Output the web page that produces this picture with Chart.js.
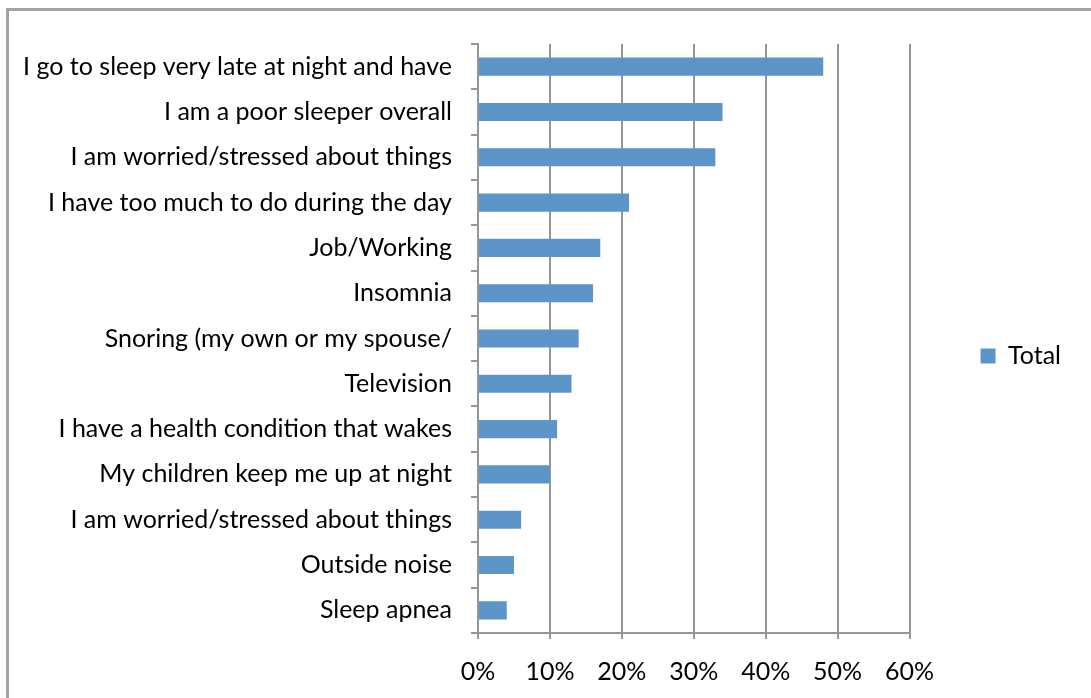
<!DOCTYPE html>
<html>
<head>
<meta charset="utf-8">
<script src="https://cdn.jsdelivr.net/npm/chart.js@4/dist/chart.umd.min.js"></script>
<style>
  html, body { margin:0; padding:0; background:#fff; overflow:hidden; }
  #frame { position:absolute; left:6px; top:8px; width:1200px; height:800px; border:3px solid #a3a3a3; box-sizing:border-box; }
  #wrap { position:absolute; left:0; top:0; width:1091px; height:698px; }
</style>
</head>
<body>
<div id="frame"></div>
<div id="wrap"><canvas id="chart-motivos"></canvas></div>
<script>
// Motivos de sono ruim — barras horizontais com legenda à direita
const categorias = [
  'I go to sleep very late at night and have',
  'I am a poor sleeper overall',
  'I am worried/stressed about things',
  'I have too much to do during the day',
  'Job/Working',
  'Insomnia',
  'Snoring (my own or my spouse/',
  'Television',
  'I have a health condition that wakes',
  'My children keep me up at night',
  'I am worried/stressed about things',
  'Outside noise',
  'Sleep apnea'
];
const valoresTotal = [48, 34, 33, 21, 17, 16, 14, 13, 11, 10, 6, 5, 4];
const eixoMin = 0, eixoMax = 60, eixoPasso = 10;

const FONTE = { family: 'Lato, "Open Sans", sans-serif', size: 25 };
const CINZA = '#969696';

// O eixo x tem altura fixa (para a legenda ficar centrada certo), mas o
// Chart.js recorta os rótulos na caixa do eixo — estica o recorte até o fim do canvas.
const rotulosXInteiros = {
  id: 'rotulosXInteiros',
  afterLayout(chart) {
    chart.scales.x.bottom = chart.height;
  }
};

const canvas = document.getElementById('chart-motivos');
const chartMotivos = new Chart(canvas, {
  type: 'bar',
  data: {
    labels: categorias,
    datasets: [{
      label: 'Total',
      data: valoresTotal,
      backgroundColor: '#5e95c8',
      borderWidth: 0,
      categoryPercentage: 1,
      barPercentage: 0.4
    }]
  },
  options: {
    indexAxis: 'y',
    responsive: true,
    maintainAspectRatio: false,
    animation: false,
    layout: { padding: { left: 0, top: 44, right: 20, bottom: 30 } },
    plugins: {
      legend: {
        position: 'right',
        labels: { boxWidth: 15, boxHeight: 15, padding: 71, color: '#000', font: FONTE }
      },
      tooltip: { enabled: false }
    },
    scales: {
      x: {
        min: eixoMin, max: eixoMax,
        ticks: { stepSize: eixoPasso, color: '#000', font: FONTE, padding: 18, callback: v => v + '%' },
        grid: { color: CINZA, lineWidth: 2, tickLength: 6, tickColor: CINZA },
        border: { display: true, color: CINZA, width: 2 },
        afterFit: s => { s.height = 35; }
      },
      y: {
        ticks: { color: '#000', font: FONTE, padding: 19 },
        grid: { drawOnChartArea: false, tickLength: 7, tickColor: CINZA, lineWidth: 2, color: CINZA },
        border: { display: true, color: CINZA, width: 2 },
        afterFit: s => { s.width = 478; }
      }
    }
  },
  plugins: [rotulosXInteiros]
});
</script>
</body>
</html>
